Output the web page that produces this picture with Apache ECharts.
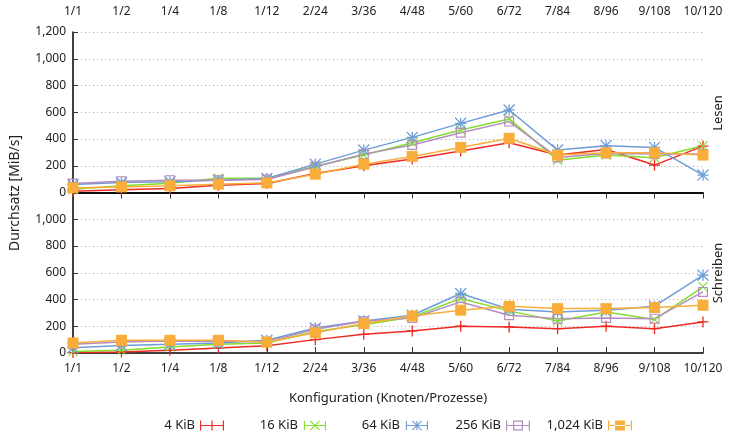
<!DOCTYPE html>
<html>
<head>
<meta charset="utf-8">
<script src="https://cdn.jsdelivr.net/npm/echarts@6/dist/echarts.min.js"></script>
<style>
  html, body { margin: 0; padding: 0; background: #fff; }
  #chart { width: 729px; height: 433px; }
</style>
</head>
<body>
<div id="chart"></div>
<script>
// Konfigurationen (Knoten/Prozesse)
var configs = ['1/1', '1/2', '1/4', '1/8', '1/12', '2/24', '3/36', '4/48', '5/60', '6/72', '7/84', '8/96', '9/108', '10/120']
var seriesNames = ['4 KiB', '16 KiB', '64 KiB', '256 KiB', '1,024 KiB']

// Lesen [MiB/s]
var lesen4k    = [10, 20, 30, 55, 67, 142, 200, 250, 310, 372, 280, 322, 205, 347]
var lesen16k   = [25, 50, 70, 107, 107, 197, 280, 372, 467, 550, 242, 280, 260, 350]
var lesen64k   = [60, 75, 80, 92, 105, 212, 317, 412, 517, 617, 317, 350, 337, 130]
var lesen256k  = [67, 85, 92, 92, 97, 192, 287, 355, 447, 530, 262, 292, 287, 287]
var lesen1024k = [35, 42, 50, 62, 72, 137, 212, 270, 337, 405, 280, 297, 297, 280]

// Schreiben [MiB/s]
var schreiben4k    = [3, 8, 20, 37, 55, 100, 140, 165, 200, 195, 182, 200, 182, 232]
var schreiben16k   = [12, 20, 45, 65, 75, 160, 212, 270, 407, 315, 240, 307, 250, 495]
var schreiben64k   = [40, 57, 65, 75, 95, 187, 240, 282, 445, 327, 307, 320, 350, 582]
var schreiben256k  = [65, 82, 90, 87, 85, 177, 237, 262, 382, 282, 257, 262, 257, 457]
var schreiben1024k = [75, 95, 95, 95, 82, 152, 220, 277, 320, 350, 332, 332, 340, 357]

var colors = ['#ee2a24', '#84de2c', '#6e9dd8', '#b48cbf', '#f9ae3c']
var font = 'Noto Sans'

// dünne Linie als Polygon (für Symbole)
function seg(x1, y1, x2, y2, w) {
    var dx = x2 - x1, dy = y2 - y1, L = Math.sqrt(dx * dx + dy * dy)
    var nx = -dy / L * w / 2, ny = dx / L * w / 2
    return 'M' + (x1 + nx) + ',' + (y1 + ny) + 'L' + (x2 + nx) + ',' + (y2 + ny) +
        'L' + (x2 - nx) + ',' + (y2 - ny) + 'L' + (x1 - nx) + ',' + (y1 - ny) + 'Z'
}

// Marker, zentriert bei (cx, cy), halbe Größe r
function marker(kind, cx, cy, r, w) {
    var p = ''
    if (kind === 'plus' || kind === 'star') {
        p += seg(cx, cy - r, cx, cy + r, w) + seg(cx - r, cy, cx + r, cy, w)
    }
    if (kind === 'cross' || kind === 'star') {
        p += seg(cx - r, cy - r, cx + r, cy + r, w) + seg(cx - r, cy + r, cx + r, cy - r, w)
    }
    if (kind === 'box') {
        p += seg(cx - r, cy - r + w / 2, cx + r, cy - r + w / 2, w) + seg(cx - r, cy + r - w / 2, cx + r, cy + r - w / 2, w) +
             seg(cx - r + w / 2, cy - r, cx - r + w / 2, cy + r, w) + seg(cx + r - w / 2, cy - r, cx + r - w / 2, cy + r, w)
    }
    if (kind === 'fbox') {
        p += 'M' + (cx - r) + ',' + (cy - r) + 'L' + (cx + r) + ',' + (cy - r) + 'L' + (cx + r) + ',' + (cy + r) + 'L' + (cx - r) + ',' + (cy + r) + 'Z'
    }
    return p
}

var kinds = ['plus', 'cross', 'star', 'box', 'fbox']
var symbols = kinds.map(function (k) {
    return 'path://' + marker(k, 6, 6, 6, 1.4)
})
var legendIcons = kinds.map(function (k) {
    var p = seg(0.6, 0, 0.6, 10, 1.2) + seg(0, 5, 24, 5, 1.2) + seg(23.4, 0, 23.4, 10, 1.2)
    return 'path://' + p + marker(k, 12, 5, 5, 1.2)
})
var symbolSizes = [11, 10, 12, 10, 11]
// rechter Rand jedes Legendeneintrags (Spalten wie bei gnuplot)
var legendRight = [500, 398, 296, 194, 92]

var lesenData = [lesen4k, lesen16k, lesen64k, lesen256k, lesen1024k]
var schreibenData = [schreiben4k, schreiben16k, schreiben64k, schreiben256k, schreiben1024k]

function fmt(v) {
    return v >= 1000 ? Math.floor(v / 1000) + ',' + ('00' + (v % 1000)).slice(-3) : '' + v
}

var myChart = echarts.init(document.getElementById('chart'))

var series = []
function addSeries(data, axisIndex) {
    data.forEach(function (vals, i) {
        series.push({
            name: seriesNames[i],
            type: 'line',
            xAxisIndex: axisIndex,
            yAxisIndex: axisIndex,
            data: vals,
            symbol: symbols[i],
            symbolSize: symbolSizes[i],
            clip: false,
            animation: false,
            lineStyle: { color: colors[i], width: 1.5 },
            itemStyle: { color: colors[i], borderWidth: 0 },
            emphasis: { disabled: true }
        })
    })
}
addSeries(lesenData, 0)
addSeries(schreibenData, 1)

var legends = seriesNames.map(function (n, i) {
    return {
        right: legendRight[i],
        top: 414,
        align: 'right',
        itemWidth: 24,
        itemHeight: 10,
        selectedMode: false,
        textStyle: { color: '#222', fontFamily: font, fontSize: 13 },
        itemStyle: { borderWidth: 0 },
        data: [{ name: n, icon: legendIcons[i] }]
    }
})

var axisLabelStyle = { color: '#222', fontFamily: font, fontSize: 12 }

var option = {
    backgroundColor: '#ffffff',
    color: colors,
    grid: [
        { left: 73, right: 26, top: 32, height: 160.5 },
        { left: 73, right: 26, top: 192.5, height: 160.5 }
    ],
    xAxis: [
        {
            type: 'category', gridIndex: 0, position: 'top', data: configs, boundaryGap: false,
            axisLine: { lineStyle: { color: '#000', width: 1.5 } },
            axisTick: { inside: true, length: 6, alignWithLabel: true, lineStyle: { color: '#333' } },
            axisLabel: Object.assign({ margin: 14, interval: 0 }, axisLabelStyle),
            splitLine: { show: false }
        },
        {
            type: 'category', gridIndex: 1, position: 'bottom', data: configs, boundaryGap: false,
            axisLine: { lineStyle: { color: '#000', width: 1.5 } },
            axisTick: { inside: true, length: 6, lineStyle: { color: '#333' } },
            axisLabel: Object.assign({ margin: 10, interval: 0 }, axisLabelStyle),
            splitLine: { show: false }
        },
        {
            type: 'category', gridIndex: 0, position: 'bottom', data: configs, boundaryGap: false,
            axisLine: { lineStyle: { color: '#000', width: 1.5 } },
            axisTick: { show: false }, axisLabel: { show: false }
        }
    ],
    yAxis: [
        {
            type: 'value', gridIndex: 0, min: 0, max: 1200, interval: 200,
            axisLine: { show: true, lineStyle: { color: '#000', width: 1.5 } },
            axisTick: { show: true, inside: true, length: 5, lineStyle: { color: '#333' } },
            axisLabel: Object.assign({ margin: 7, formatter: fmt }, axisLabelStyle),
            splitLine: { lineStyle: { color: '#aaa', type: [1, 3] } }
        },
        {
            type: 'value', gridIndex: 1, min: 0, max: 1200, interval: 200,
            axisLine: { show: true, lineStyle: { color: '#000', width: 1.5 } },
            axisTick: { show: true, inside: true, length: 5, lineStyle: { color: '#333' } },
            axisLabel: Object.assign({ margin: 7, formatter: function (v) { return v >= 1200 ? '' : fmt(v) } }, axisLabelStyle),
            splitLine: { lineStyle: { color: '#aaa', type: [1, 3] } }
        }
    ],
    legend: legends,
    graphic: [
        {
            type: 'text', x: 15, y: 193, rotation: Math.PI / 2,
            style: { text: 'Durchsatz [MiB/s]', fill: '#222', font: '14px "Noto Sans"', align: 'center', verticalAlign: 'middle' }
        },
        {
            type: 'text', x: 718, y: 113, rotation: Math.PI / 2,
            style: { text: 'Lesen', fill: '#222', font: '13px "Noto Sans"', align: 'center', verticalAlign: 'middle' }
        },
        {
            type: 'text', x: 718, y: 273, rotation: Math.PI / 2,
            style: { text: 'Schreiben', fill: '#222', font: '13px "Noto Sans"', align: 'center', verticalAlign: 'middle' }
        },
        {
            type: 'text', x: 388, y: 398,
            style: { text: 'Konfiguration (Knoten/Prozesse)', fill: '#222', font: '13px "Noto Sans"', align: 'center', verticalAlign: 'middle' }
        }
    ],
    series: series
}

myChart.setOption(option);
</script>
</body>
</html>
